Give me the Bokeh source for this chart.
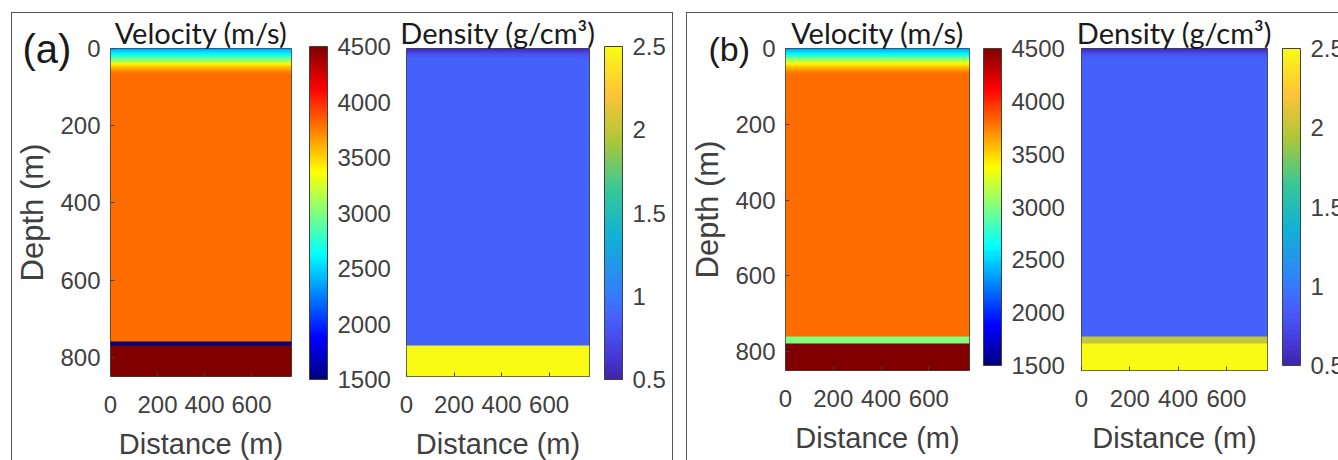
import numpy as np
from bokeh.plotting import figure
from bokeh.models import (LinearColorMapper, ColorBar, FixedTicker, Range1d, Title,
                          CustomJSTickFormatter)
from bokeh.layouts import row
from bokeh.embed import file_html
from bokeh.resources import INLINE

# ---------------- data ----------------
model_width = 770          # m
model_bottom = 850         # m
x_ticks = [0, 200, 400, 600]
y_ticks = [0, 200, 400, 600, 800]
vel_ticks = [1500, 2000, 2500, 3000, 3500, 4000, 4500]
den_ticks = [0.5, 1, 1.5, 2, 2.5]
vel_range = (1500, 4500)
den_range = (0.5, 2.5)

# near-surface gradient, sampled every 5 m
grad_depths = [0, 5, 10, 15, 20, 25, 30, 35, 40, 45, 50, 55, 60]
vel_grad = [2400, 2500, 2600, 2720, 2850, 3000, 3150, 3300, 3420, 3530, 3620, 3700, 3760]
den_grad = [0.56, 0.66, 0.75, 0.81, 0.85, 0.87, 0.88, 0.88, 0.88, 0.88, 0.88, 0.88, 0.88]

# layers below the gradient (top depth of each layer)
layer_tops_a = [65, 760, 770]
vel_layers_a = [3800, 1500, 4500]
den_layers_a = [0.88, 0.88, 2.5]

layer_tops_b = [65, 760, 780]
vel_layers_b = [3800, 3000, 4500]
den_layers_b = [0.88, 2.0, 2.5]

# ---------------- palettes ----------------
def jet(n=256):
    x = np.linspace(0, 1, n)
    r = np.clip(1.5 - np.abs(4 * x - 3), 0, 1)
    g = np.clip(1.5 - np.abs(4 * x - 2), 0, 1)
    b = np.clip(1.5 - np.abs(4 * x - 1), 0, 1)
    return ["#%02x%02x%02x" % (int(round(R * 255)), int(round(G * 255)), int(round(B * 255)))
            for R, G, B in zip(r, g, b)]

parula_anchor_pos = [0.0, 0.059, 0.143, 0.188, 0.231, 0.286, 0.429, 0.571, 0.714, 0.857, 1.0]
parula_anchor_rgb = [(0.2422, 0.1504, 0.6603), (0.2691, 0.2094, 0.8249), (0.2810, 0.3228, 0.9579),
                     (0.2726, 0.3804, 0.9881), (0.2311, 0.4497, 0.9995), (0.1786, 0.5289, 0.9682),
                     (0.0689, 0.6948, 0.8394), (0.2161, 0.7843, 0.5923), (0.6720, 0.7793, 0.2227),
                     (0.9970, 0.7659, 0.2199), (0.9769, 0.9839, 0.0805)]

def parula(n=256):
    x = np.linspace(0, 1, n)
    rgb = np.array(parula_anchor_rgb)
    cols = [np.interp(x, parula_anchor_pos, rgb[:, k]) for k in range(3)]
    return ["#%02x%02x%02x" % (int(round(R * 255)), int(round(G * 255)), int(round(B * 255)))
            for R, G, B in zip(*cols)]

JET = jet()
PARULA = parula()

# ---------------- model images (step lookup, no interpolation) ----------------
def model_image(tops, values, dz=1.0, ncols=8):
    z = np.arange(0, model_bottom, dz) + dz / 2
    idx = np.searchsorted(np.asarray(tops, dtype=float), z, side="right") - 1
    prof = np.asarray(values, dtype=float)[idx]
    return np.tile(prof[:, None], (1, ncols))

TXT = "#404040"
TICK_FONT = "Liberation Sans"

def make_fig(frame_w, frame_h, left, right, bottom, title, show_y, title_standoff):
    p = figure(frame_width=frame_w, frame_height=frame_h,
               min_border_left=left, min_border_right=right,
               min_border_top=35, min_border_bottom=bottom,
               x_range=Range1d(0, model_width), y_range=Range1d(model_bottom, 0),
               output_backend="svg", toolbar_location=None,
               y_axis_location="left" if show_y else None, title=title)
    p.title.text_font = "Lato"
    p.title.text_font_size = "29px"
    p.title.text_font_style = "normal"
    p.title.text_color = "#1a1a1a"
    p.title.align = "center"
    p.title.standoff = title_standoff
    p.grid.visible = False
    p.outline_line_color = TXT
    p.outline_line_width = 1
    p.outline_line_alpha = 1
    p.xaxis.ticker = FixedTicker(ticks=x_ticks)
    p.xaxis.axis_label = "Distance (m)"
    p.xaxis.major_label_standoff = 19
    p.xaxis.axis_label_standoff = 12
    axes = list(p.xaxis) + (list(p.yaxis) if show_y else [])
    for ax in axes:
        ax.axis_line_color = None
        ax.major_tick_in = 4
        ax.major_tick_out = 0
        ax.major_tick_line_color = TXT
        ax.minor_tick_line_color = None
        ax.major_label_text_font = TICK_FONT
        ax.major_label_text_font_size = "24px"
        ax.major_label_text_color = TXT
        ax.axis_label_text_font = TICK_FONT
        ax.axis_label_text_font_size = "29px"
        ax.axis_label_text_font_style = "normal"
        ax.axis_label_text_color = TXT
    if show_y:
        p.yaxis.ticker = FixedTicker(ticks=y_ticks)
        p.yaxis.axis_label = "Depth (m)"
        p.yaxis.axis_label_text_font_size = "31px"
        p.yaxis.major_label_standoff = 10
        p.yaxis.axis_label_standoff = 7
    return p

def add_colorbar(p, mapper, ticks, bar_h, loc):
    cb = ColorBar(color_mapper=mapper, ticker=FixedTicker(ticks=ticks),
                  formatter=CustomJSTickFormatter(code="return tick.toString()"),
                  width=18, height=bar_h, padding=0, margin=0, location=loc,
                  label_standoff=10, major_label_text_font=TICK_FONT,
                  major_label_text_font_size="24px", major_label_text_color=TXT,
                  major_tick_line_color=None, bar_line_color=TXT, bar_line_width=1,
                  border_line_color=None, background_fill_color=None)
    p.add_layout(cb, "right")
    return cb

def panel(letter, letter_size, letter_offset, letter_standoff, title_standoff,
          tops, vels, dens, fw_v, fw_d, fh, lb_v, rb_v, lb_d, rb_d, bb,
          bar_h, loc_v, loc_d):
    vmap = LinearColorMapper(palette=JET, low=vel_range[0], high=vel_range[1])
    dmap = LinearColorMapper(palette=PARULA, low=den_range[0], high=den_range[1])

    pv = make_fig(fw_v, fh, lb_v, rb_v, bb, "Velocity (m/s)", True, title_standoff)
    pv.image(image=[model_image(tops, vels)], x=0, y=0, dw=model_width, dh=model_bottom,
             color_mapper=vmap)
    add_colorbar(pv, vmap, vel_ticks, bar_h, loc_v)
    pv.add_layout(Title(text=letter, align="left", offset=letter_offset, vertical_align="middle",
                        standoff=letter_standoff, text_font=TICK_FONT,
                        text_font_size=letter_size, text_font_style="normal",
                        text_color="#1a1a1a"), "above")

    pd_ = make_fig(fw_d, fh, lb_d, rb_d, bb, "Density (g/cm³)", False, -3)
    pd_.image(image=[model_image(tops, dens)], x=0, y=0, dw=model_width, dh=model_bottom,
              color_mapper=dmap)
    add_colorbar(pd_, dmap, den_ticks, bar_h, loc_d)
    return pv, pd_

grad_tops = grad_depths
pa_v, pa_d = panel("(a)", "40px", -88, -47, -2,
                   grad_tops + layer_tops_a, vel_grad + vel_layers_a, den_grad + den_layers_a,
                   181, 183, 328, 98, 104, 11, 83, 84, 333, (18, -3), (15, -3))
pb_v, pb_d = panel("(b)", "34px", -77, -40, -2,
                   grad_tops + layer_tops_b, vel_grad + vel_layers_b, den_grad + den_layers_b,
                   184, 186, 322, 93, 104, 8, 76, 90, 317, (14, 5), (15, 5))

box_a = row(pa_v, pa_d, styles={"border": "1px solid #555555"}, margin=(12, 0, 0, 11))
box_b = row(pb_v, pb_d, styles={"border": "1px solid #555555"}, margin=(12, 0, 0, 13))
layout = row(box_a, box_b)

open("out.html", "w").write(file_html(layout, INLINE))
